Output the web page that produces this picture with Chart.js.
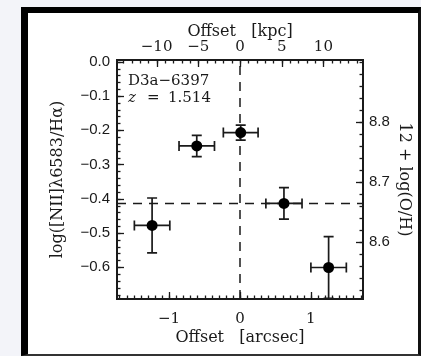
<!DOCTYPE html>
<html>
<head>
<meta charset="utf-8">
<script src="https://cdn.jsdelivr.net/npm/chart.js@4.4.1/dist/chart.umd.min.js"></script>
<style>
  html, body { margin: 0; padding: 0; }
  body { width: 421px; height: 356px; background: #f3f4f9; position: relative; overflow: hidden; }
  #frame {
    position: absolute; left: 21px; top: 7px; width: 390px; height: 341px;
    border-left: 7px solid #000; border-top: 6px solid #000;
    border-right: 3px solid #111; border-bottom: 2px solid #333;
    background: #fff;
  }
  canvas { display: block; }
</style>
</head>
<body>
<div id="frame"><canvas id="chart" width="390" height="341"></canvas></div>
<script>
// D3a-6397: [NII]/Ha ratio across the galaxy, arcsec offsets below, kpc on top,
// PP04 N2 metallicity on the right-hand axis.

const OFFSET_ARCSEC = [-1.24, -0.61, 0.01, 0.62, 1.25];
const OFFSET_ERR    = [0.25, 0.25, 0.245, 0.255, 0.25];
const N2_RATIO      = [-0.478, -0.246, -0.207, -0.414, -0.601];
const N2_ERR        = [0.080, 0.031, 0.022, 0.046, 0.090];
const N2_REF = -0.414; // horizontal dashed line

const X_TICKS   = [-1, 0, 1];
const KPC_TICKS = [-10, -5, 0, 5, 10];
const Y_TICKS   = [0, -0.1, -0.2, -0.3, -0.4, -0.5, -0.6];
const OH_TICKS  = [8.6, 8.7, 8.8];

const X_RANGE = [-1.735, 1.735];
const Y_RANGE = [-0.693, 0.005];
const KPC_PER_ARCSEC = 8.5;
const PP04 = { a: 8.90, b: 0.57 }; // 12+log(O/H) = a + b * N2

const INK = '#1a1a1a';
const SANS = { family: '"Liberation Sans", Arial, sans-serif', size: 15 };
const SERIF = { family: '"DejaVu Serif", serif', size: 15 };
const SERIF_TITLE = { family: '"DejaVu Serif", serif', size: 16 };

const fmt = (v, d) => (v < -1e-9 ? '\u2212' : '') + Math.abs(v).toFixed(d);

function steps(min, max, step) {
  const out = [];
  for (let k = Math.ceil(min / step - 1e-6); k <= Math.floor(max / step + 1e-6); k++) out.push(k * step);
  return out;
}

// error bars under the filled points
const errorBars = {
  id: 'errorBars',
  beforeDatasetDraw(chart, args) {
    if (args.index !== 2) return;
    const { ctx, scales: { x, y } } = chart;
    const cap = 5;
    ctx.save();
    ctx.strokeStyle = INK;
    ctx.lineWidth = 1.7;
    OFFSET_ARCSEC.forEach((ox, i) => {
      const px = x.getPixelForValue(ox);
      const py = y.getPixelForValue(N2_RATIO[i]);
      const x0 = x.getPixelForValue(ox - OFFSET_ERR[i]);
      const x1 = x.getPixelForValue(ox + OFFSET_ERR[i]);
      const y0 = y.getPixelForValue(N2_RATIO[i] - N2_ERR[i]);
      const y1 = y.getPixelForValue(N2_RATIO[i] + N2_ERR[i]);
      ctx.beginPath();
      ctx.moveTo(x0, py); ctx.lineTo(x1, py);
      ctx.moveTo(x0, py - cap); ctx.lineTo(x0, py + cap);
      ctx.moveTo(x1, py - cap); ctx.lineTo(x1, py + cap);
      ctx.moveTo(px, y0); ctx.lineTo(px, y1);
      ctx.moveTo(px - cap, y0); ctx.lineTo(px + cap, y0);
      ctx.moveTo(px - cap, y1); ctx.lineTo(px + cap, y1);
      ctx.stroke();
    });
    ctx.restore();
  }
};

// IDL-style inward ticks on all four sides
const insideTicks = {
  id: 'insideTicks',
  afterDraw(chart) {
    const { ctx, chartArea: a, scales } = chart;
    ctx.save();
    ctx.strokeStyle = INK;
    ctx.lineWidth = 1.3;
    const mark = (scale, v, len) => {
      const p = Math.round(scale.getPixelForValue(v)) + 0.5;
      ctx.beginPath();
      if (scale.position === 'bottom') { ctx.moveTo(p, a.bottom); ctx.lineTo(p, a.bottom - len); }
      if (scale.position === 'top')    { ctx.moveTo(p, a.top);    ctx.lineTo(p, a.top + len); }
      if (scale.position === 'left')   { ctx.moveTo(a.left, p);   ctx.lineTo(a.left + len, p); }
      if (scale.position === 'right')  { ctx.moveTo(a.right, p);  ctx.lineTo(a.right - len, p); }
      ctx.stroke();
    };
    const side = (scale, majors, minorStep) => {
      steps(scale.min, scale.max, minorStep).forEach(v => mark(scale, v, 3.5));
      majors.forEach(v => mark(scale, v, 7));
    };
    side(scales.x, X_TICKS, 0.1);
    side(scales.x2, KPC_TICKS, 1);
    side(scales.y, Y_TICKS, 0.02);
    side(scales.y2, OH_TICKS, 0.02);
    ctx.restore();
  }
};

// object name and redshift in the top-left corner
const labelText = {
  id: 'labelText',
  afterDraw(chart) {
    const { ctx } = chart;
    ctx.save();
    ctx.fillStyle = INK;
    ctx.textBaseline = 'middle';
    ctx.font = '15px "DejaVu Serif", serif';
    ctx.fillText('D3a\u22126397', 100, 68);
    ctx.font = 'italic 15px "DejaVu Serif", serif';
    ctx.fillText('z', 100, 85);
    ctx.font = '15px "DejaVu Serif", serif';
    ctx.fillText('=', 119, 85);
    ctx.fillText('1.514', 140, 85);
    ctx.restore();
  }
};

function axis(position, extra) {
  return Object.assign({
    position,
    grid: { display: false, drawTicks: false },
    border: { display: true, color: INK, width: 2 },
  }, extra);
}

new Chart(document.getElementById('chart'), {
  type: 'scatter',
  data: {
    datasets: [
      {
        type: 'line', showLine: true, xAxisID: 'x', yAxisID: 'y',
        data: [{ x: 0, y: Y_RANGE[0] }, { x: 0, y: Y_RANGE[1] }],
        borderColor: INK, borderWidth: 1.5, borderDash: [9, 7], pointRadius: 0, order: 2
      },
      {
        type: 'line', showLine: true, xAxisID: 'x', yAxisID: 'y',
        data: [{ x: X_RANGE[0], y: N2_REF }, { x: X_RANGE[1], y: N2_REF }],
        borderColor: INK, borderWidth: 1.5, borderDash: [9, 7], pointRadius: 0, order: 2
      },
      {
        xAxisID: 'x', yAxisID: 'y',
        data: OFFSET_ARCSEC.map((x, i) => ({ x, y: N2_RATIO[i] })),
        pointRadius: 5.5, backgroundColor: '#000', borderWidth: 0, order: 1
      }
    ]
  },
  options: {
    responsive: false,
    animation: false,
    events: [],
    layout: { padding: 0, autoPadding: false },
    plugins: { legend: { display: false }, tooltip: { enabled: false } },
    scales: {
      x: axis('bottom', {
        min: X_RANGE[0], max: X_RANGE[1],
        afterBuildTicks: s => { s.ticks = X_TICKS.map(value => ({ value })); },
        afterFit: s => { s.height = 55; },
        ticks: { padding: 11, color: INK, font: SERIF, autoSkip: false, maxRotation: 0, callback: v => fmt(v, 0) },
        title: { display: true, text: 'Offset   [arcsec]', color: INK, font: SERIF_TITLE, padding: { top: 0, bottom: 7 } }
      }),
      x2: axis('top', {
        min: X_RANGE[0] * KPC_PER_ARCSEC, max: X_RANGE[1] * KPC_PER_ARCSEC,
        afterBuildTicks: s => { s.ticks = KPC_TICKS.map(value => ({ value })); },
        afterFit: s => { s.height = 47; },
        ticks: { padding: 4, color: INK, font: SERIF, autoSkip: false, maxRotation: 0, callback: v => fmt(v, 0) },
        title: { display: true, text: 'Offset   [kpc]', color: INK, font: SERIF_TITLE, padding: { top: 9, bottom: 0 } }
      }),
      y: axis('left', {
        min: Y_RANGE[0], max: Y_RANGE[1],
        afterBuildTicks: s => { s.ticks = Y_TICKS.map(value => ({ value })); },
        afterFit: s => { s.width = 89; },
        ticks: { padding: 7, color: INK, font: SANS, autoSkip: false, callback: v => fmt(v, 1) },
        title: { display: true, text: 'log([NII]\u03bb6583/H\u03b1)', color: INK, font: SERIF_TITLE, padding: { top: 20, bottom: 0 } }
      }),
      y2: axis('right', {
        min: PP04.a + PP04.b * Y_RANGE[0], max: PP04.a + PP04.b * Y_RANGE[1],
        afterBuildTicks: s => { s.ticks = OH_TICKS.map(value => ({ value })); },
        afterFit: s => { s.width = 55; },
        ticks: { padding: 6, color: INK, font: SANS, autoSkip: false, callback: v => fmt(v, 1) },
        title: { display: true, text: '12 + log(O/H)', color: INK, font: SERIF_TITLE, padding: { top: 4, bottom: 0 } }
      })
    }
  },
  plugins: [errorBars, insideTicks, labelText]
});
</script>
</body>
</html>
